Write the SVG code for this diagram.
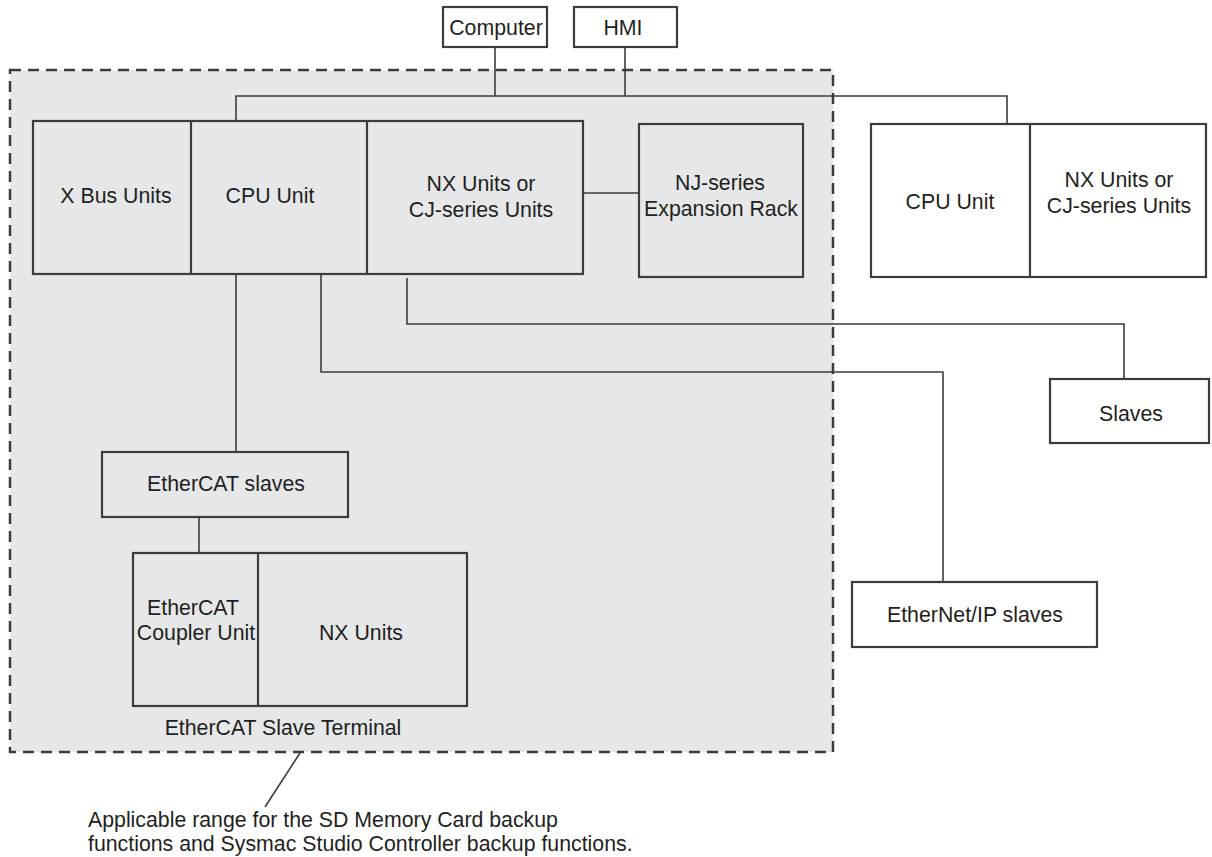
<svg xmlns="http://www.w3.org/2000/svg" width="1212" height="857" viewBox="0 0 1212 857">
<style>
.box{fill:none;stroke:#3c3c3c;stroke-width:2.2}
.wbox{fill:#fff;stroke:#3c3c3c;stroke-width:2.2}
.ln{fill:none;stroke:#3c3c3c;stroke-width:1.6}
text{font-family:"Liberation Sans",Arial,sans-serif;font-size:21.3px;fill:#231f20;text-anchor:middle}
.lt{text-anchor:start}
</style>
<rect width="1212" height="857" fill="#fff"/>
<g id="range">
<rect x="10" y="70" width="823" height="682" fill="#e6e7e8" stroke="#3c3c3c" stroke-width="2.5" stroke-dasharray="11 7"/>
<text x="283" y="735">EtherCAT Slave Terminal</text>
</g>
<g id="connectors">
<polyline class="ln" points="495,47 495,96"/>
<polyline class="ln" points="625,47 625,96"/>
<polyline class="ln" points="236,121 236,96 1007,96 1007,124"/>
<polyline class="ln" points="583,193 639,193"/>
<polyline class="ln" points="236,274 236,452"/>
<polyline class="ln" points="321,274 321,372 943,372 943,582"/>
<polyline class="ln" points="407,278 407,324 1124,324 1124,379"/>
<polyline class="ln" points="199,517 199,553"/>
<polyline class="ln" points="300,753 265,807"/>
</g>
<g id="computer">
<rect class="wbox" x="443" y="7" width="104" height="40"/>
<text x="496" y="35">Computer</text>
</g>
<g id="hmi">
<rect class="wbox" x="574" y="7" width="103" height="40"/>
<text x="623" y="35">HMI</text>
</g>
<g id="main-rack">
<rect class="box" x="33" y="121" width="550" height="153"/>
<line class="box" x1="191" y1="121" x2="191" y2="274"/>
<line class="box" x1="367" y1="121" x2="367" y2="274"/>
<text x="116" y="203">X Bus Units</text>
<text x="270" y="203">CPU Unit</text>
<text x="481" y="191">NX Units or</text>
<text x="481" y="217">CJ-series Units</text>
</g>
<g id="expansion-rack">
<rect class="box" x="639" y="124" width="164" height="153"/>
<text x="720" y="190">NJ-series</text>
<text x="721" y="216">Expansion Rack</text>
</g>
<g id="other-rack">
<rect class="wbox" x="871" y="124" width="335" height="153"/>
<line class="box" x1="1030" y1="124" x2="1030" y2="277"/>
<text x="950" y="209">CPU Unit</text>
<text x="1119" y="187">NX Units or</text>
<text x="1119" y="213">CJ-series Units</text>
</g>
<g id="slaves">
<rect class="wbox" x="1050" y="379" width="159" height="64"/>
<text x="1131" y="421">Slaves</text>
</g>
<g id="ethercat-slaves">
<rect class="box" x="102" y="452" width="246" height="65"/>
<text x="226" y="491">EtherCAT slaves</text>
</g>
<g id="slave-terminal">
<rect class="box" x="133" y="553" width="334" height="153"/>
<line class="box" x1="258" y1="553" x2="258" y2="706"/>
<text x="193" y="615">EtherCAT</text>
<text x="196" y="640">Coupler Unit</text>
<text x="361" y="640">NX Units</text>
</g>
<g id="ethernetip-slaves">
<rect class="wbox" x="852" y="582" width="245" height="65"/>
<text x="975" y="622">EtherNet/IP slaves</text>
</g>
<g id="note">
<text class="lt" x="88" y="827">Applicable range for the SD Memory Card backup</text>
<text class="lt" x="88" y="851">functions and Sysmac Studio Controller backup functions.</text>
</g>
</svg>
